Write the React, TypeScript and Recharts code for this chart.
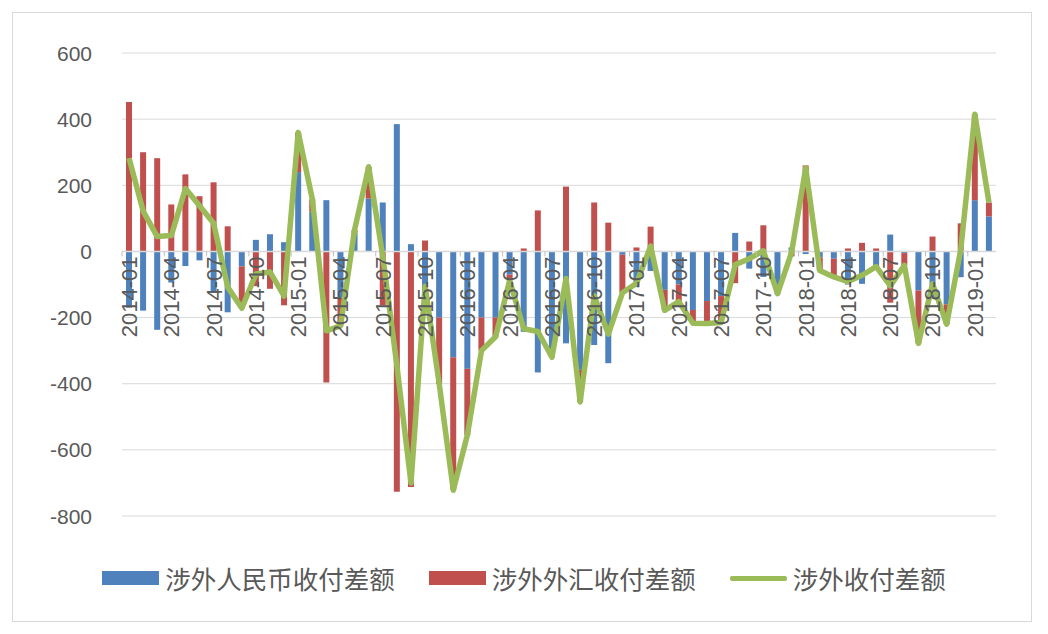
import React from 'react';
import { ComposedChart, Bar, Line, XAxis, YAxis, CartesianGrid, ReferenceLine, Legend } from 'recharts';

const months = [
  '2014-01','2014-02','2014-03','2014-04','2014-05','2014-06','2014-07','2014-08','2014-09','2014-10','2014-11','2014-12',
  '2015-01','2015-02','2015-03','2015-04','2015-05','2015-06','2015-07','2015-08','2015-09','2015-10','2015-11','2015-12',
  '2016-01','2016-02','2016-03','2016-04','2016-05','2016-06','2016-07','2016-08','2016-09','2016-10','2016-11','2016-12',
  '2017-01','2017-02','2017-03','2017-04','2017-05','2017-06','2017-07','2017-08','2017-09','2017-10','2017-11','2017-12',
  '2018-01','2018-02','2018-03','2018-04','2018-05','2018-06','2018-07','2018-08','2018-09','2018-10','2018-11','2018-12',
  '2019-01','2019-02',
];

// 涉外人民币收付差额
const rmbBalance = [
  -170, -179, -237, -94, -44, -27, -125, -184, -45, 35, 52, 28,
  240, 120, 155, -140, 55, 160, 148, 385, 22, -138, -200, -320,
  -355, -200, -200, -70, -243, -366, -305, -278, -358, -283, -338, -10,
  -108, -59, -116, -100, -177, -150, -135, 56, -52, -77, -128, 12,
  -8, -18, -22, -100, -98, -55, 51, -5, -118, -143, -160, -78,
  155, 106,
];

// 涉外外汇收付差额
const fxBalance = [
  452, 300, 282, 142, 233, 167, 209, 76, -127, -105, -113, -163,
  120, 38, -396, -85, 10, 95, -163, -727, -712, 33, -200, -400,
  -200, -100, -58, -18, 9, 124, -15, 196, -97, 148, 87, -115,
  12, 75, -62, -52, -40, -68, -80, -96, 30, 79, 0, -15,
  260, -40, -55, 9, 26, 9, -155, -37, -160, 45, -60, 85,
  260, 42,
];

// 涉外收付差额
const totalBalance = [
  282, 122, 45, 48, 190, 138, 85, -108, -172, -68, -62, -135,
  360, 158, -240, -225, 65, 256, -15, -345, -700, -105, -400, -722,
  -555, -300, -258, -88, -234, -242, -320, -82, -455, -135, -250, -125,
  -96, 16, -178, -152, -217, -218, -215, -40, -22, 2, -128, -3,
  252, -58, -77, -91, -72, -46, -104, -42, -278, -98, -220, 5,
  415, 148,
];

const yTicks = [-800, -600, -400, -200, 0, 200, 400, 600];
const seriesNames = ['涉外人民币收付差额', '涉外外汇收付差额', '涉外收付差额'];
const colors = ['#4f81bd', '#c0504d', '#9bbb59'];

const data = months.map((m, i) => ({
  month: m,
  rmb: rmbBalance[i],
  fx: fxBalance[i],
  total: totalBalance[i],
}));

const W = 1048;
const H = 634;
const PLOT_LEFT = 122;
const PLOT_RIGHT = 996;
const PLOT_TOP = 53;
const PLOT_BOTTOM = 516;
const Y_MIN = -800;
const Y_MAX = 600;
const LEGEND_H = 40;
const XAXIS_H = 30;
const ZERO_Y = PLOT_TOP + ((PLOT_BOTTOM - PLOT_TOP) * (Y_MAX - 0)) / (Y_MAX - Y_MIN);
const BAND = (PLOT_RIGHT - PLOT_LEFT) / months.length;
const TEXT_COLOR = '#595959';
const LATIN_FONT = '"Liberation Sans", Arial, sans-serif';
const CJK_FONT = '"Noto Sans CJK SC", "Liberation Sans", sans-serif';

const XTick = (props: any) => {
  const { x, payload } = props;
  return (
    <g>
      <line x1={x - BAND / 2} x2={x - BAND / 2} y1={ZERO_Y} y2={ZERO_Y + 5} stroke="#bfbfbf" strokeWidth={1} />
      <text
        transform={`translate(${x},${ZERO_Y + 5}) rotate(-90)`}
        textAnchor="end"
        dy="0.36em"
        fontSize={22}
        fontFamily={LATIN_FONT}
        fill={TEXT_COLOR}
      >
        {payload.value}
      </text>
    </g>
  );
};

const YTick = (props: any) => {
  const { y, payload } = props;
  return (
    <text
      x={PLOT_LEFT - 30}
      y={y}
      dy="0.36em"
      textAnchor="end"
      fontSize={21}
      fontFamily={LATIN_FONT}
      fill={TEXT_COLOR}
    >
      {payload.value}
    </text>
  );
};

const LegendContent = (props: any) => {
  const { payload } = props;
  return (
    <div
      style={{
        display: 'flex',
        justifyContent: 'center',
        alignItems: 'center',
        height: LEGEND_H,
        gap: 34,
        fontFamily: CJK_FONT,
        fontSize: 25.5,
        color: TEXT_COLOR,
      }}
    >
      {(payload || []).map((entry: any, i: number) => (
        <div key={i} style={{ display: 'flex', alignItems: 'center' }}>
          {entry.type === 'line' ? (
            <div style={{ width: 57, height: 5, background: entry.color, borderRadius: 2 }} />
          ) : (
            <div style={{ width: 57, height: 14, background: entry.color }} />
          )}
          <span style={{ marginLeft: 6, lineHeight: 1, whiteSpace: 'nowrap' }}>{entry.value}</span>
        </div>
      ))}
    </div>
  );
};

export default function App() {
  return (
    <div style={{ position: 'absolute', left: 0, top: 0, width: W, height: H, background: '#fff' }}>
      <div
        style={{
          position: 'absolute',
          left: 12,
          top: 12,
          width: 1020,
          height: 610,
          border: '1px solid #d9d9d9',
          boxSizing: 'border-box',
        }}
      />
      <div style={{ position: 'absolute', left: 0, top: 0 }}>
        <ComposedChart
          width={W}
          height={H}
          data={data}
          stackOffset="sign"
          margin={{ top: PLOT_TOP, right: W - PLOT_RIGHT, left: 0, bottom: H - PLOT_BOTTOM - LEGEND_H - XAXIS_H }}
        >
          <CartesianGrid vertical={false} stroke="#d9d9d9" strokeWidth={1} />
          <XAxis
            dataKey="month"
            interval={2}
            height={XAXIS_H}
            axisLine={false}
            tickLine={false}
            tick={<XTick />}
          />
          <YAxis
            width={PLOT_LEFT}
            domain={[Y_MIN, Y_MAX]}
            ticks={yTicks}
            allowDataOverflow
            axisLine={false}
            tickLine={false}
            tick={<YTick />}
          />
          <ReferenceLine y={0} stroke="#d9d9d9" strokeWidth={1.5} />
          <Bar dataKey="rmb" name={seriesNames[0]} stackId="s" fill={colors[0]} barSize={6} legendType="rect" isAnimationActive={false} />
          <Bar dataKey="fx" name={seriesNames[1]} stackId="s" fill={colors[1]} barSize={6} legendType="rect" isAnimationActive={false} />
          <Line
            dataKey="total"
            name={seriesNames[2]}
            type="linear"
            stroke={colors[2]}
            strokeWidth={5.5}
            strokeLinejoin="round"
            dot={false}
            activeDot={false}
            legendType="line"
            isAnimationActive={false}
          />
          <Legend
            verticalAlign="bottom"
            content={<LegendContent />}
            wrapperStyle={{ position: 'absolute', left: 0, top: 558, width: W, height: LEGEND_H }}
          />
        </ComposedChart>
      </div>
    </div>
  );
}
